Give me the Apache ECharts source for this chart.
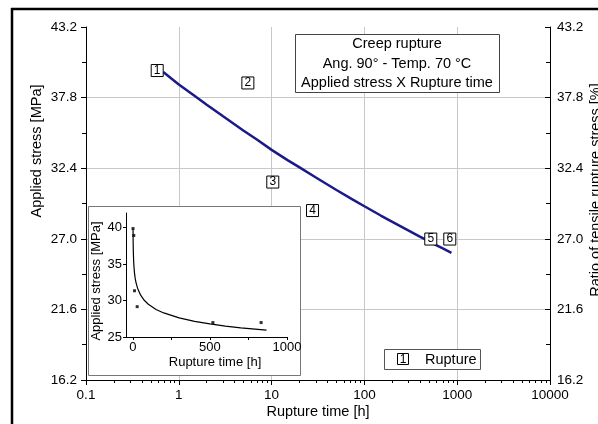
<!DOCTYPE html>
<html>
<head>
<meta charset="utf-8">
<script src="https://cdn.jsdelivr.net/npm/echarts@6/dist/echarts.min.js"></script>
<style>html,body{margin:0;padding:0;background:#fff}#c{width:598px;height:424px}</style>
</head>
<body>
<div id="c"></div>
<script>
// ---- data ----
const specimenIds = ['1', '2', '3', '4', '5', '6'];
const ruptureTime = [0.585, 5.55, 10.3, 27.6, 519, 832];
const ruptureStress = [39.87, 38.92, 31.34, 29.16, 26.98, 26.98];
const fitTime = [0.68, 1, 1.5, 2, 3, 5, 7, 10, 15, 20, 30, 50, 75, 100, 150, 200, 300, 400, 500, 600, 700, 867];
const fitStress = [39.76, 38.8, 37.9, 37.26, 36.37, 35.27, 34.57, 33.8, 33.0, 32.46, 31.69, 30.73, 30.0, 29.49, 28.78, 28.3, 27.62, 27.15, 26.8, 26.5, 26.26, 25.93];
const xTickLabels = ['0.1', '1', '10', '100', '1000', '10000'];
const xMinorTicks = [0.2,0.3,0.4,0.5,0.6,0.7,0.8,0.9, 2,3,4,5,6,7,8,9, 20,30,40,50,60,70,80,90, 200,300,400,500,600,700,800,900, 2000,3000,4000,5000,6000,7000,8000,9000];
const yTickLabels = ['16.2', '21.6', '27.0', '32.4', '37.8', '43.2'];
const insetXLabels = [0, 500, 1000];
const insetXTicks = [0, 250, 500, 750, 1000];
const insetYLabels = [25, 30, 35, 40];

const titleLines = ['Creep rupture', 'Ang. 90° - Temp. 70 °C', 'Applied stress X Rupture time'];
const seriesName = 'Rupture';
const xTitle = 'Rupture time [h]';
const yTitle = 'Applied stress [MPa]';
const y2Title = 'Ratio of tensile rupture stress [%]';

// ---- chart ----
const FF = '"Liberation Sans", Arial, sans-serif';
const chart = echarts.init(document.getElementById('c'), null, {renderer: 'canvas'});
const fitPairs = fitTime.map((t, i) => [t, fitStress[i]]);
const pointPairs = ruptureTime.map((t, i) => [t, ruptureStress[i]]);

const txt = (text, x, y, size, align, rot) => ({
  type: 'text', x: x, y: y, rotation: rot || 0, z: 30,
  style: {text: text, x: 0, y: 0, fill: '#000', font: size + 'px ' + FF,
          textAlign: align || 'center', textVerticalAlign: 'middle'}
});

chart.setOption({
  animation: false,
  backgroundColor: '#fff',
  grid: [
    {left: 86, right: 48, top: 27, bottom: 44},
    {left: 126, right: 311, top: 213, bottom: 87, z: 8}
  ],
  xAxis: [
    {
      gridIndex: 0, type: 'log', logBase: 10, min: 0.1, max: 10000, position: 'bottom',
      axisLine: {show: true, lineStyle: {color: '#000', width: 1}},
      axisTick: {show: true, inside: false, length: 5, lineStyle: {color: '#000'}},
      axisLabel: {color: '#000', fontSize: 13.5, fontFamily: FF, margin: 8,
                  formatter: (v, i) => xTickLabels[i]},
      splitLine: {show: true, showMinLine: false, showMaxLine: false, lineStyle: {color: '#c8c8c8', width: 1}}
    },
    {
      gridIndex: 0, type: 'log', logBase: 10, min: 0.1, max: 10000, position: 'bottom',
      axisLine: {show: false},
      axisTick: {show: true, inside: false, length: 3, customValues: xMinorTicks, lineStyle: {color: '#000'}},
      axisLabel: {show: false},
      splitLine: {show: false}
    },
    {
      gridIndex: 1, type: 'value', min: -45, max: 1000, z: 9, position: 'bottom',
      axisLine: {show: true, onZero: false, lineStyle: {color: '#000', width: 1}},
      axisTick: {show: true, length: 3, customValues: insetXTicks, lineStyle: {color: '#000'}},
      axisLabel: {color: '#000', fontSize: 13, fontFamily: FF, margin: 4, customValues: insetXLabels,
                  formatter: v => String(v)},
      splitLine: {show: false}
    }
  ],
  yAxis: [
    {
      gridIndex: 0, type: 'value', min: 16.2, max: 43.2, interval: 5.4,
      axisLine: {show: true, lineStyle: {color: '#000', width: 1}},
      axisTick: {show: true, inside: false, length: 5, lineStyle: {color: '#000'}},
      minorTick: {show: true, splitNumber: 2, length: 4, lineStyle: {color: '#000'}},
      axisLabel: {color: '#000', fontSize: 13.5, fontFamily: FF, margin: 9,
                  formatter: (v, i) => yTickLabels[i]},
      splitLine: {show: true, showMinLine: false, showMaxLine: false, lineStyle: {color: '#c8c8c8', width: 1}}
    },
    {
      gridIndex: 0, type: 'value', position: 'right', min: 16.2, max: 43.2, interval: 5.4,
      axisLine: {show: true, lineStyle: {color: '#000', width: 1}},
      axisTick: {show: true, inside: true, length: 5, lineStyle: {color: '#000'}},
      minorTick: {show: true, splitNumber: 2, length: 4, lineStyle: {color: '#000'}},
      axisLabel: {color: '#000', fontSize: 13.5, fontFamily: FF, margin: 7,
                  formatter: (v, i) => yTickLabels[i]},
      splitLine: {show: false}
    },
    {
      gridIndex: 1, type: 'value', min: 25, max: 42, z: 9,
      axisLine: {show: true, onZero: false, lineStyle: {color: '#000', width: 1}},
      axisTick: {show: true, length: 3, customValues: insetYLabels, lineStyle: {color: '#000'}},
      axisLabel: {color: '#000', fontSize: 13, fontFamily: FF, margin: 4, customValues: insetYLabels},
      splitLine: {show: false}
    }
  ],
  series: [
    {
      name: 'fit', type: 'line', xAxisIndex: 0, yAxisIndex: 0, data: fitPairs,
      showSymbol: false, smooth: false, z: 3,
      lineStyle: {color: '#1a1a88', width: 2.5}
    },
    {
      name: seriesName, type: 'scatter', xAxisIndex: 0, yAxisIndex: 0, data: pointPairs,
      symbol: 'rect', symbolSize: [12, 12], z: 4,
      itemStyle: {color: '#fff', borderColor: '#000', borderWidth: 1, opacity: 1},
      label: {show: true, position: 'inside', color: '#000', fontSize: 12, fontFamily: FF,
              formatter: p => specimenIds[p.dataIndex]}
    },
    {
      name: 'inset fit', type: 'line', xAxisIndex: 2, yAxisIndex: 2, data: fitPairs,
      showSymbol: false, z: 12, lineStyle: {color: '#000', width: 1.2}
    },
    {
      name: 'inset points', type: 'scatter', xAxisIndex: 2, yAxisIndex: 2, data: pointPairs,
      symbol: 'rect', symbolSize: 3, z: 13, itemStyle: {color: '#000'}
    }
  ],
  graphic: [
    {type: 'rect', z: 6, shape: {x: 88.5, y: 206.5, width: 212, height: 169},
     style: {fill: '#fff', stroke: '#777', lineWidth: 1}},
    {type: 'rect', z: 20, shape: {x: 295.5, y: 34.5, width: 204, height: 58},
     style: {fill: '#fff', stroke: '#444', lineWidth: 1}},
    txt(titleLines[0], 397, 44, 14.5),
    txt(titleLines[1], 397, 64, 14.5),
    txt(titleLines[2], 397, 83, 14.5),
    {type: 'rect', z: 20, shape: {x: 384.5, y: 349.5, width: 96, height: 20},
     style: {fill: '#fff', stroke: '#555', lineWidth: 1}},
    {type: 'rect', z: 25, shape: {x: 397.5, y: 353.5, width: 11, height: 11},
     style: {fill: '#fff', stroke: '#000', lineWidth: 1}},
    txt(specimenIds[0], 403, 359.5, 12),
    txt(seriesName, 425, 359.5, 14.5, 'left'),
    txt(xTitle, 318, 412, 14.5),
    txt(yTitle, 37, 151, 14.5, 'center', Math.PI / 2),
    txt(y2Title, 596, 190, 14.5, 'center', Math.PI / 2),
    txt(xTitle, 215, 362, 13),
    txt(yTitle, 96, 281, 13, 'center', Math.PI / 2),
    {type: 'line', z: 40, shape: {x1: 11, y1: 9, x2: 598, y2: 9}, style: {stroke: '#000', lineWidth: 2.5}},
    {type: 'line', z: 40, shape: {x1: 12, y1: 8, x2: 12, y2: 424}, style: {stroke: '#000', lineWidth: 2.5}}
  ]
});
</script>
</body>
</html>
